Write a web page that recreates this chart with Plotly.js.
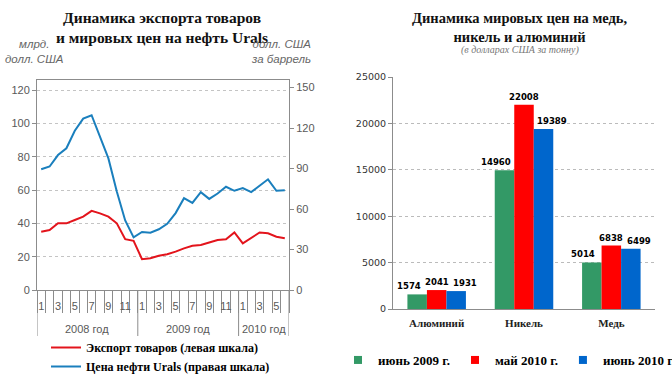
<!DOCTYPE html>
<html><head><meta charset="utf-8">
<script src="https://cdn.plot.ly/plotly-3.0.1.min.js"></script>
<style>html,body{margin:0;padding:0;overflow:hidden;background:#fff}</style>
</head><body><div id="chart" style="width:672px;height:384px"></div>
<script>
// ---------- data: left chart ----------
const monthNums = [1,2,3,4,5,6,7,8,9,10,11,12, 1,2,3,4,5,6,7,8,9,10,11,12, 1,2,3,4,5,6];
const years = ['2008 год','2009 год','2010 год'];
const monthsPerYear = [12,12,6];
const exportsBln = [35,36,40,40,42,44,47.5,46,44,40,30.5,29.5,18.5,19,20.5,21.5,23,25,26.5,27,28.5,30,30.5,34.5,28,31,34.5,34,32,31];
const uralsPrice = [89.5,91.5,100,105,118,127,129.5,113.5,97.5,73,51.5,39,43,42.5,45,49,57,68,64.5,72.5,67.5,71.5,76.5,73.5,75.5,72.5,77,82,73.5,74];
const leftTicks = [0,20,40,60,80,100,120];
const rightTicks = [0,30,60,90,120,150];
const lineNames = ['Экспорт товаров (левая шкала)','Цена нефти Urals (правая шкала)'];
// ---------- data: right chart ----------
const metals = ['Алюминий','Никель','Медь'];
const jun2009 = [1574,14960,5014];
const may2010 = [2041,22008,6838];
const jun2010 = [1931,19389,6499];
const seriesNames = ['июнь 2009 г.','май 2010 г.','июнь 2010 г.'];
const barTicks = [0,5000,10000,15000,20000,25000];

// ---------- layout helpers (pixel -> paper) ----------
const W = 672, H = 384, ML = 37, MR = 17, MT = 77, MB = 75;
const PW = W - ML - MR, PH = H - MT - MB;
const px = p => (p - ML) / PW;
const py = p => (H - MB - p) / PH;

const pos = monthNums.map((m, i) => i + 1);
const tickPos = pos.filter((p, i) => monthNums[i] % 2 === 1);
const tickTxt = monthNums.filter(m => m % 2 === 1).map(String);
const bounds = [0.5];
monthsPerYear.forEach(n => bounds.push(bounds[bounds.length - 1] + n));

const axisCol = '#8c8c8c';
const sansTick = {family: 'Liberation Sans, Arial, sans-serif', size: 11, color: '#595959'};
const boldSerif = (s) => ({family: 'Liberation Serif, serif', size: s, color: '#000', weight: 'bold'});

const traces = [
  {x: pos, y: exportsBln, type: 'scatter', mode: 'lines', name: lineNames[0],
   line: {color: '#e3141c', width: 2}, xaxis: 'x', yaxis: 'y', legend: 'legend'},
  {x: pos, y: uralsPrice, type: 'scatter', mode: 'lines', name: lineNames[1],
   line: {color: '#1a7fbd', width: 2}, xaxis: 'x', yaxis: 'y2', legend: 'legend'},
];
const barColors = ['#339966', '#ff0000', '#0066cc'];
const barSeries = [jun2009, may2010, jun2010];
barSeries.forEach((vals, k) => {
  traces.push({x: metals, y: vals, type: 'bar', name: seriesNames[k], showlegend: false,
    marker: {color: barColors[k]}, xaxis: 'x2', yaxis: 'y3'});
});
// legend keys for the bar series (small squares, like the original)
seriesNames.forEach((nm, k) => traces.push({x: [null], y: [null], type: 'scatter', mode: 'markers',
  name: nm, marker: {symbol: 'square', size: 8, color: barColors[k]}, xaxis: 'x2', yaxis: 'y3',
  legend: 'legend2'}));

const shapes = bounds.map(b => ({type: 'line', xref: 'x', yref: 'paper', x0: b, x1: b,
  y0: py(290), y1: py(336), line: {color: axisCol, width: 1}}));

const annotations = [
  {text: 'Динамика экспорта товаров<br>и мировых цен на нефть Urals', x: px(162), y: py(28),
   font: {family: 'Liberation Serif, serif', size: 15.5, color: '#111', weight: 'bold'}},
  {text: 'Динамика мировых цен на медь,<br>никель и алюминий', x: px(520), y: py(28),
   font: {family: 'Liberation Serif, serif', size: 14.5, color: '#111', weight: 'bold'}},
  {text: '(в долларах США за тонну)', x: px(520), y: py(50),
   font: {family: 'Liberation Serif, serif', size: 10, color: '#777', style: 'italic'}},
  {text: 'млрд.<br>долл. США', x: px(34), y: py(52),
   font: {family: 'Liberation Sans, Arial, sans-serif', size: 11.5, color: '#666', style: 'italic'}},
  {text: 'долл. США<br>за баррель', x: px(313), y: py(52), xanchor: 'right', align: 'right',
   font: {family: 'Liberation Sans, Arial, sans-serif', size: 11.5, color: '#666', style: 'italic'}},
].map(a => Object.assign({xref: 'paper', yref: 'paper', showarrow: false, xanchor: 'center', yanchor: 'middle'}, a));
years.forEach((yr, k) => annotations.push({text: yr, xref: 'x', yref: 'paper',
  x: (bounds[k] + bounds[k + 1]) / 2, y: py(329), showarrow: false, xanchor: 'center', yanchor: 'middle',
  font: sansTick}));
// value labels above the bars, offset sideways like the original
const labelShift = [-28, 0, 28];
barSeries.forEach((vals, k) => vals.forEach((v, j) => annotations.push({
  text: String(v), xref: 'x2', yref: 'y3', x: metals[j], y: v, xshift: labelShift[k], yshift: 1,
  xanchor: 'center', yanchor: 'bottom', showarrow: false,
  font: {family: 'DejaVu Sans Condensed, DejaVu Sans, sans-serif', size: 9.5, color: '#000', weight: 'bold'}})));

const layout = {
  width: W, height: H, margin: {l: ML, r: MR, t: MT, b: MB, autoexpand: false},
  paper_bgcolor: '#fff', plot_bgcolor: '#fff', showlegend: true,
  xaxis: {domain: [0, px(289)], anchor: 'y', range: [0.5, 30.5], tickmode: 'array',
    tickvals: tickPos, ticktext: tickTxt, ticks: '', showgrid: false, zeroline: false,
    showline: true, mirror: true, linecolor: axisCol, tickfont: sansTick, ticklabelstandoff: 6,
    minor: {tickmode: 'linear', tick0: 0.5, dtick: 1, ticks: 'outside', ticklen: 22,
      tickcolor: axisCol, showgrid: false}},
  yaxis: {domain: [py(290), py(80)], anchor: 'x', range: [0, 126], tickmode: 'array',
    tickvals: leftTicks, ticks: 'outside', ticklen: 4, tickcolor: axisCol, showline: true,
    linecolor: axisCol, gridcolor: '#c4c4c4', griddash: 'dot', zeroline: false, tickfont: sansTick},
  yaxis2: {overlaying: 'y', side: 'right', anchor: 'x', range: [0, 155.6], tickmode: 'array',
    tickvals: rightTicks, ticks: 'outside', ticklen: 4, tickcolor: axisCol, showline: true,
    linecolor: axisCol, showgrid: false, zeroline: false, tickfont: sansTick},
  xaxis2: {domain: [px(393), 1], anchor: 'y3', showline: true, linecolor: axisCol, ticks: '',
    ticklabelstandoff: 4, tickfont: {family: 'Liberation Serif, serif', size: 11, color: '#222', weight: 'bold'}},
  yaxis3: {domain: [0, 1], anchor: 'x2', range: [0, 25000], tickmode: 'array', tickvals: barTicks,
    tickformat: 'd', ticks: 'outside', ticklen: 4, tickcolor: axisCol, showline: true,
    linecolor: axisCol, gridcolor: '#bbbbbb', griddash: '3px,3px', zeroline: false,
    tickfont: {family: 'DejaVu Sans, sans-serif', size: 9.5, color: '#333'}},
  barmode: 'group', bargap: 0.33, bargroupgap: 0,
  legend: {x: px(46), y: py(333), xanchor: 'left', yanchor: 'top', orientation: 'v',
    bgcolor: 'rgba(0,0,0,0)', font: boldSerif(12)},
  legend2: {x: px(338), y: py(360), xanchor: 'left', yanchor: 'middle', orientation: 'h',
    bgcolor: 'rgba(0,0,0,0)', font: boldSerif(13)},
  shapes: shapes, annotations: annotations,
};
Plotly.newPlot('chart', traces, layout, {displayModeBar: false, staticPlot: true});
</script></body></html>
